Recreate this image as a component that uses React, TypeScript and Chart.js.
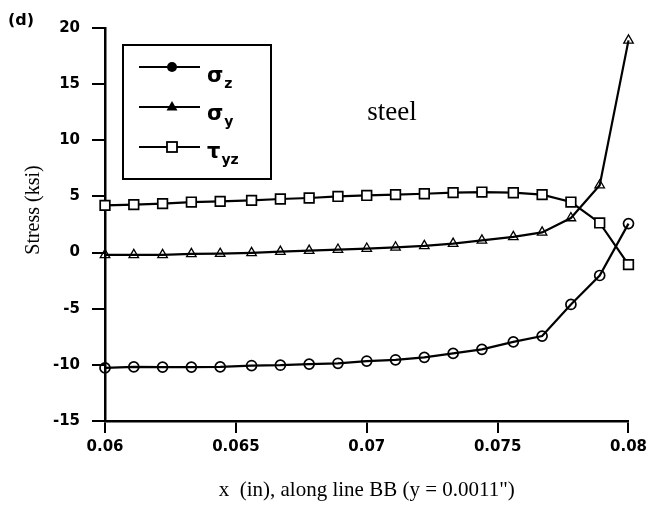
import React, { useEffect, useRef } from "react";
import { Chart, registerables } from "chart.js";

Chart.register(...registerables);

// x positions along line BB (in)
const xValues = [
  0.06, 0.0611, 0.0622, 0.0633, 0.0644, 0.0656, 0.0667, 0.0678, 0.0689, 0.07,
  0.0711, 0.0722, 0.0733, 0.0744, 0.0756, 0.0767, 0.0778, 0.0789, 0.08,
];
// stresses (ksi)
const sigmaZ = [
  -10.27, -10.18, -10.2, -10.2, -10.18, -10.06, -10.03, -9.93, -9.86, -9.66,
  -9.55, -9.33, -8.98, -8.62, -7.95, -7.44, -4.62, -2.04, 2.58,
];
const sigmaY = [
  -0.2, -0.2, -0.2, -0.12, -0.1, -0.03, 0.08, 0.18, 0.27, 0.36,
  0.47, 0.6, 0.8, 1.09, 1.4, 1.8, 3.08, 6.0, 18.9,
];
const tauYZ = [
  4.2, 4.27, 4.36, 4.5, 4.56, 4.65, 4.77, 4.86, 5.0, 5.09,
  5.16, 5.24, 5.34, 5.39, 5.33, 5.16, 4.5, 2.64, -1.07,
];

const xTickValues = [0.06, 0.065, 0.07, 0.075, 0.08];
const xTickLabels = ["0.06", "0.065", "0.07", "0.075", "0.08"];
const yTickValues = [-15, -10, -5, 0, 5, 10, 15, 20];
const yTickLabels = ["-15", "-10", "-5", "0", "5", "10", "15", "20"];

const seriesNames: [string, string][] = [
  ["σ", "z"],
  ["σ", "y"],
  ["τ", "yz"],
];
const xTitle = 'x  (in), along line BB (y = 0.0011")';
const yTitle = "Stress (ksi)";
const annotationText = "steel";
const panelLabel = "(d)";

const tickFont = { family: "'DejaVu Sans'", size: 15, weight: "bold" as const };

const overlayPlugin = {
  id: "overlay",
  afterDraw(chart: any) {
    const ctx: CanvasRenderingContext2D = chart.ctx;
    ctx.save();
    ctx.fillStyle = "#000";
    ctx.strokeStyle = "#000";

    // panel label
    ctx.font = "bold 16px 'DejaVu Sans'";
    ctx.textBaseline = "alphabetic";
    ctx.textAlign = "left";
    ctx.fillText(panelLabel, 8, 25);

    // annotation
    ctx.font = "27px 'Liberation Serif'";
    ctx.textAlign = "center";
    ctx.fillText(annotationText, 392, 120);

    // y axis title
    ctx.save();
    ctx.translate(34, 210);
    ctx.rotate(-Math.PI / 2);
    ctx.font = "20px 'Liberation Serif'";
    ctx.textAlign = "center";
    ctx.textBaseline = "middle";
    ctx.fillText(yTitle, 0, 0);
    ctx.restore();

    // legend box
    ctx.lineWidth = 2;
    ctx.strokeRect(123, 45, 148, 134);
    const rows = [67, 107, 147];
    rows.forEach((y, i) => {
      ctx.lineWidth = 2;
      ctx.beginPath();
      ctx.moveTo(139, y);
      ctx.lineTo(200, y);
      ctx.stroke();
      const mx = 172;
      if (i === 0) {
        ctx.beginPath();
        ctx.arc(mx, y, 5, 0, Math.PI * 2);
        ctx.fill();
      } else if (i === 1) {
        ctx.beginPath();
        ctx.moveTo(mx, y - 6);
        ctx.lineTo(mx + 5.5, y + 3.5);
        ctx.lineTo(mx - 5.5, y + 3.5);
        ctx.closePath();
        ctx.fill();
      } else {
        ctx.fillStyle = "#fff";
        ctx.fillRect(mx - 5, y - 5, 10, 10);
        ctx.fillStyle = "#000";
        ctx.lineWidth = 1.8;
        ctx.strokeRect(mx - 5, y - 5, 10, 10);
      }
      const [main, sub] = seriesNames[i];
      ctx.textAlign = "left";
      ctx.textBaseline = "alphabetic";
      ctx.font = "bold 21px 'DejaVu Sans'";
      const baseY = y + 15 - i * 2;
      ctx.fillText(main, 207, baseY);
      const w = ctx.measureText(main).width;
      ctx.font = "bold 14px 'DejaVu Sans'";
      ctx.fillText(sub, 207 + w + 1, baseY + 6);
    });
    ctx.restore();
  },
};

export default function App() {
  const canvasRef = useRef<HTMLCanvasElement | null>(null);

  useEffect(() => {
    const canvas = canvasRef.current;
    if (!canvas) return;
    const mk = (arr: number[]) => xValues.map((x, i) => ({ x, y: arr[i] }));
    const common = {
      borderColor: "#000",
      borderWidth: 2.2,
      pointBorderColor: "#000",
      pointBorderWidth: 1.7,
      tension: 0,
      fill: false,
      clip: false as const,
    };
    const chart = new Chart(canvas, {
      type: "line",
      data: {
        datasets: [
          {
            ...common,
            label: "σz",
            data: mk(sigmaZ),
            pointStyle: "circle",
            pointRadius: 5,
            pointBackgroundColor: "rgba(255,255,255,0)",
          },
          {
            ...common,
            label: "σy",
            data: mk(sigmaY),
            pointStyle: "triangle",
            pointRadius: 5.5,
            pointBorderWidth: 1.3,
            pointBackgroundColor: "rgba(255,255,255,0)",
          },
          {
            ...common,
            label: "τyz",
            data: mk(tauYZ),
            pointStyle: "rect",
            pointRadius: 6.8,
            pointBackgroundColor: "#fff",
          },
        ],
      },
      options: {
        animation: false,
        responsive: false,
        maintainAspectRatio: false,
        devicePixelRatio: 1,
        layout: { padding: { left: 0, right: 20, top: 28, bottom: 0 } },
        plugins: {
          legend: { display: false },
          tooltip: { enabled: false },
        },
        scales: {
          x: {
            type: "linear",
            min: 0.06,
            max: 0.08,
            afterFit: (scale: any) => {
              scale.height = 87;
            },
            afterBuildTicks: (scale: any) => {
              scale.ticks = xTickValues.map((v) => ({ value: v }));
            },
            ticks: {
              color: "#000",
              font: tickFont,
              padding: 5,
              maxRotation: 0,
              autoSkip: false,
              callback: (v: any) => {
                const idx = xTickValues.findIndex((t) => Math.abs(t - Number(v)) < 1e-9);
                return idx >= 0 ? xTickLabels[idx] : "";
              },
            },
            grid: {
              drawOnChartArea: false,
              drawTicks: true,
              tickLength: 12,
              color: "#000",
              lineWidth: 2,
            },
            border: { display: true, color: "#000", width: 2.5 },
            title: {
              display: true,
              text: xTitle,
              color: "#000",
              font: { family: "'Liberation Serif'", size: 21 },
              padding: { top: 0, bottom: 5 },
            },
          },
          y: {
            type: "linear",
            min: -15,
            max: 20,
            afterFit: (scale: any) => {
              scale.width = 105;
            },
            afterBuildTicks: (scale: any) => {
              scale.ticks = yTickValues.map((v) => ({ value: v }));
            },
            ticks: {
              color: "#000",
              font: tickFont,
              padding: 12,
              autoSkip: false,
              callback: (v: any) => {
                const idx = yTickValues.indexOf(Number(v));
                return idx >= 0 ? yTickLabels[idx] : "";
              },
            },
            grid: {
              drawOnChartArea: false,
              drawTicks: true,
              tickLength: 13,
              color: "#000",
              lineWidth: 2,
            },
            border: { display: true, color: "#000", width: 2.5 },
            title: { display: false },
          },
        },
      },
      plugins: [overlayPlugin],
    });
    return () => chart.destroy();
  }, []);

  return (
    <div style={{ position: "absolute", left: 0, top: 0, width: 652, height: 508, background: "#fff" }}>
      <canvas ref={canvasRef} width={652} height={508} style={{ display: "block", width: 652, height: 508 }} />
    </div>
  );
}
